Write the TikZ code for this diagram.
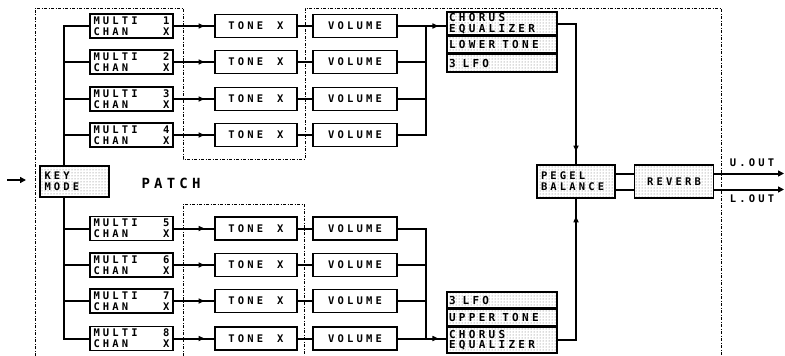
\documentclass[tikz,border=0pt]{standalone}
\usepackage{fontspec}
\newfontfamily\pix{DejaVu Sans Mono Bold}[LetterSpace=30]
\newcommand\wgap{\hspace{7pt}}
\usetikzlibrary{arrows.meta,decorations.markings,patterns}
\begin{document}
\begin{tikzpicture}[x=1pt,y=-1pt,
  every node/.style={font=\pix\fontsize{10.5}{11}\selectfont, inner sep=0pt},
  mc/.style={draw, line width=1.8pt, minimum width=83pt, minimum height=24pt, text width=76pt, align=left},
  tn/.style={draw, line width=1.5pt, minimum width=82pt, minimum height=23pt},
  vl/.style={draw, line width=1.5pt, minimum width=84pt, minimum height=23pt},
  dotbox/.style={draw, line width=1.5pt, pattern=dots, pattern color=black!60},
  fx/.style={dotbox, minimum width=110pt, minimum height=#1, text width=106pt, align=left,
     font=\pix\fontsize{11}{10.5}\selectfont},
  wire/.style={line width=2pt},
  region/.style={line width=0.8pt, dash pattern=on 3pt off 1.5pt on 1pt off 1.5pt},
  midarrow/.style={postaction={decorate}, decoration={markings, mark=at position #1 with {\arrow{Triangle[length=6pt,width=5pt]}}}}
]
\useasboundingbox (0,0) rectangle (785,356);

% dashed patch region
\draw[region] (35,356) -- (35,8) -- (183,8) -- (183,159) -- (305,159) -- (305,8) -- (721,8) -- (721,356);
\draw[region] (183,356) -- (183,204) -- (304,204) -- (304,356);

\coordinate (busx) at (64,0);
\coordinate (vbx) at (426,0);

% channels
\foreach \i/\y in {1/26,2/62,3/99,4/135,5/228.5,6/265,7/301,8/338.5}{
  \node[mc] (m\i) at (131.5,\y) {MULTI\hfill \i\\CHAN\hfill X};
  \node[tn] (t\i) at (256,\y) {TONE\hspace{14pt}X};
  \node[vl] (v\i) at (355,\y) {VOLUME};
  \draw[wire, midarrow=0.76] (m\i) -- (t\i);
  \draw[wire] (t\i) -- (v\i);
}

% key mode
\node[dotbox, minimum width=69pt, minimum height=31pt, text width=60pt, align=left] (km) at (74.5,181.5) {KEY\\MODE};
\node[font=\pix\fontsize{14}{14}\selectfont] (patch) at (171,183) {PATCH};
\coordinate (in0) at (7,180);
\coordinate (in1) at (26,180);
\draw[line width=1.6pt, -{Triangle[length=6pt,width=6pt]}] (in0) -- (in1);

% left bus
\draw[wire] (m1.west) -| (km.north -| busx);
\draw[wire] (m8.west) -| (km.south -| busx);
\foreach \i in {2,3,4,5,6,7}{
  \draw[wire] (m\i.west) -- (m\i.west -| busx);
}

% effects stacks
\node[fx=23pt] (ce1) at (502,23.5) {CHORUS\\EQUALIZER};
\node[fx=17pt] (lt) at (502,44.5) {LOWER\wgap TONE};
\node[fx=18pt] (lf1) at (502,63) {3\wgap LFO};
\node[fx=16pt] (lf2) at (502,300) {3\wgap LFO};
\node[fx=16pt] (ut) at (502,317.5) {UPPER\wgap TONE};
\node[fx=26pt] (ce2) at (502,340) {CHORUS\\EQUALIZER};

% volume buses
\draw[wire] (v4.east) -| (v1.east -| vbx);
\draw[wire] (v5.east) -| (v8.east -| vbx);
\foreach \i in {2,3,6,7}{
  \draw[wire] (v\i.east) -- (v\i.east -| vbx);
}
\draw[wire, midarrow=0.84] (v1.east) -- (ce1.west |- v1.east);
\draw[wire, midarrow=0.84] (v8.east) -- (ce2.west |- v8.east);

% pegel balance and reverb
\node[dotbox, minimum width=78pt, minimum height=33pt, text width=70pt, align=left] (pb) at (576,181.5) {PEGEL\\BALANCE};
\node[dotbox, minimum width=79pt, minimum height=33pt] (rv) at (674,181.5) {REVERB};
\draw[wire, midarrow=0.92] (ce1.east) -| (pb.north);
\draw[wire, midarrow=0.89] (ce2.east) -| (pb.south);
\draw[wire] ([yshift=8pt]pb.east) -- ([yshift=8pt]rv.west);
\draw[wire] ([yshift=-8pt]pb.east) -- ([yshift=-8pt]rv.west);

\coordinate (uo) at (784,173.5);
\coordinate (lo) at (784,189.5);
\draw[wire, -{Triangle[length=6pt,width=6pt]}] ([yshift=8pt]rv.east) -- (uo);
\draw[wire, -{Triangle[length=6pt,width=6pt]}] ([yshift=-8pt]rv.east) -- (lo);
\node (ul) at (752,163) {U.OUT};
\node (ll) at (752,199) {L.OUT};
\end{tikzpicture}
\end{document}
